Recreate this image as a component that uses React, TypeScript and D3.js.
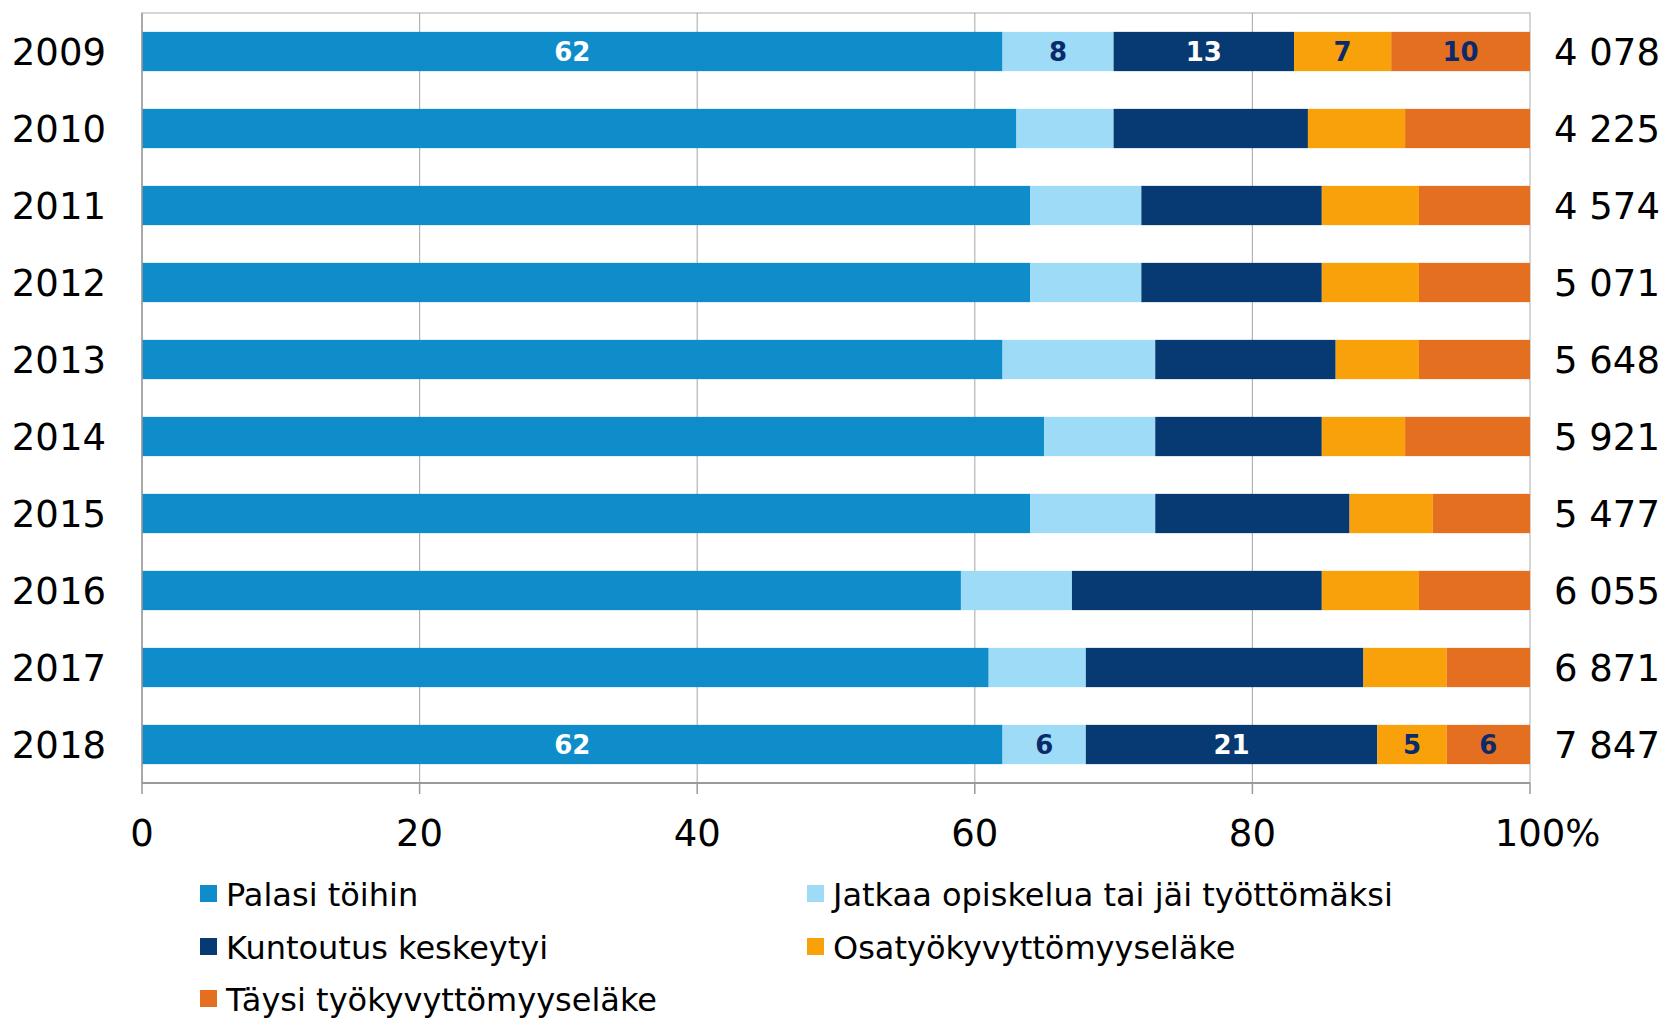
import React, { useEffect, useRef } from "react";
import * as d3 from "d3";

const years = ["2009", "2010", "2011", "2012", "2013", "2014", "2015", "2016", "2017", "2018"];
const palasiToihin = [62, 63, 64, 64, 62, 65, 64, 59, 61, 62];
const jatkaaOpiskelua = [8, 7, 8, 8, 11, 8, 9, 8, 7, 6];
const kuntoutusKeskeytyi = [13, 14, 13, 13, 13, 12, 14, 18, 20, 21];
const osaElake = [7, 7, 7, 7, 6, 6, 6, 7, 6, 5];
const taysiElake = [10, 9, 8, 8, 8, 9, 7, 8, 6, 6];
const totals = [4078, 4225, 4574, 5071, 5648, 5921, 5477, 6055, 6871, 7847];
const labelledYears = ["2009", "2018"];
const xTicks = [0, 20, 40, 60, 80, 100];

const seriesKeys = ["palasi", "jatkaa", "kuntoutus", "osa", "taysi"];
const seriesNames = [
  "Palasi töihin",
  "Jatkaa opiskelua tai jäi työttömäksi",
  "Kuntoutus keskeytyi",
  "Osatyökyvyttömyyseläke",
  "Täysi työkyvyttömyyseläke",
];
const colors = ["#0f8dca", "#9ddbf6", "#073a72", "#f9a10a", "#e56f21"];
const labelColors = ["#ffffff", "#0b2a6b", "#ffffff", "#0b2a6b", "#0b2a6b"];

const FONT = "'DejaVu Sans', Verdana, sans-serif";

const Chart = () => {
  const ref = useRef(null);

  useEffect(() => {
    const svg = d3.select(ref.current);
    svg.selectAll("*").remove();

    const width = 1663;
    const height = 1022;
    const plot = { left: 142, right: 1530, top: 13, bottom: 783 };

    svg.attr("width", width).attr("height", height);

    const rows = years.map((y, i) => ({
      year: y,
      palasi: palasiToihin[i],
      jatkaa: jatkaaOpiskelua[i],
      kuntoutus: kuntoutusKeskeytyi[i],
      osa: osaElake[i],
      taysi: taysiElake[i],
    }));

    const stacked = d3.stack().keys(seriesKeys)(rows as any);

    const x = d3.scaleLinear().domain([0, 100]).range([plot.left, plot.right]);
    const y = d3
      .scaleBand()
      .domain(years)
      .range([plot.top, plot.bottom])
      .paddingInner(0.49)
      .paddingOuter(0.245);

    // plot frame + gridlines
    svg.append("rect")
      .attr("x", plot.left)
      .attr("y", plot.top)
      .attr("width", plot.right - plot.left)
      .attr("height", plot.bottom - plot.top)
      .attr("fill", "none")
      .attr("stroke", "#c8c8c8")
      .attr("stroke-width", 1.5);

    svg.append("g")
      .selectAll("line")
      .data(xTicks.slice(1, -1))
      .enter()
      .append("line")
      .attr("x1", (d) => x(d))
      .attr("x2", (d) => x(d))
      .attr("y1", plot.top)
      .attr("y2", plot.bottom)
      .attr("stroke", "#b4b4b4")
      .attr("stroke-width", 1.2);

    // bars
    stacked.forEach((layer, si) => {
      svg.append("g")
        .selectAll("rect")
        .data(layer)
        .enter()
        .append("rect")
        .attr("x", (d) => x(d[0]))
        .attr("y", (d: any) => y(d.data.year))
        .attr("width", (d) => x(d[1]) - x(d[0]))
        .attr("height", y.bandwidth())
        .attr("fill", colors[si]);

      svg.append("g")
        .selectAll("text")
        .data(layer.filter((d: any) => labelledYears.includes(d.data.year)))
        .enter()
        .append("text")
        .attr("x", (d) => (x(d[0]) + x(d[1])) / 2)
        .attr("y", (d: any) => y(d.data.year) + y.bandwidth() / 2)
        .attr("dy", "0.36em")
        .attr("text-anchor", "middle")
        .attr("font-family", FONT)
        .attr("font-weight", "bold")
        .attr("font-size", 26)
        .attr("fill", labelColors[si])
        .text((d) => d[1] - d[0]);
    });

    // axes lines
    svg.append("line")
      .attr("x1", plot.left)
      .attr("x2", plot.left)
      .attr("y1", plot.top)
      .attr("y2", plot.bottom)
      .attr("stroke", "#9a9a9a")
      .attr("stroke-width", 1.5);

    svg.append("line")
      .attr("x1", plot.left)
      .attr("x2", plot.right)
      .attr("y1", plot.bottom)
      .attr("y2", plot.bottom)
      .attr("stroke", "#9a9a9a")
      .attr("stroke-width", 2);

    svg.append("g")
      .selectAll("line")
      .data(xTicks)
      .enter()
      .append("line")
      .attr("x1", (d) => x(d))
      .attr("x2", (d) => x(d))
      .attr("y1", plot.bottom)
      .attr("y2", plot.bottom + 11)
      .attr("stroke", "#9a9a9a")
      .attr("stroke-width", 1.5);

    // x tick labels ("%" hangs after the 100)
    const tickG = svg.append("g")
      .attr("font-family", FONT)
      .attr("font-size", 37)
      .attr("fill", "#000");
    xTicks.forEach((t) => {
      const txt = tickG.append("text")
        .attr("x", x(t))
        .attr("y", 833)
        .attr("dy", "0.36em")
        .attr("text-anchor", "middle")
        .text(String(t));
      if (t === 100) {
        const w = (txt.node() as SVGTextElement).getComputedTextLength();
        tickG.append("text")
          .attr("x", x(t) + w / 2)
          .attr("y", 833)
          .attr("dy", "0.36em")
          .text("%");
      }
    });

    // year labels
    svg.append("g")
      .selectAll("text")
      .data(years)
      .enter()
      .append("text")
      .attr("x", 106)
      .attr("y", (d) => y(d) + y.bandwidth() / 2)
      .attr("dy", "0.36em")
      .attr("text-anchor", "end")
      .attr("font-family", FONT)
      .attr("font-size", 37)
      .text((d) => d);

    // totals on the right
    const fmt = (v) => d3.format(",")(v).replace(",", " ");
    svg.append("g")
      .selectAll("text")
      .data(years)
      .enter()
      .append("text")
      .attr("x", 1554)
      .attr("y", (d) => y(d) + y.bandwidth() / 2)
      .attr("dy", "0.36em")
      .attr("font-family", FONT)
      .attr("font-size", 37)
      .text((d, i) => fmt(totals[i]));

    // legend: two columns, filled row by row
    const colX = [200, 807];
    const rowY = [894, 947, 999];
    seriesNames.forEach((name, i) => {
      const cx = colX[i % 2];
      const cy = rowY[Math.floor(i / 2)];
      svg.append("rect")
        .attr("x", cx)
        .attr("y", cy - 9)
        .attr("width", 17)
        .attr("height", 17)
        .attr("fill", colors[i]);
      svg.append("text")
        .attr("x", cx + 26)
        .attr("y", cy)
        .attr("dy", "0.36em")
        .attr("font-family", FONT)
        .attr("font-size", 32)
        .text(name);
    });
  }, []);

  return <svg ref={ref} style={{ position: "absolute", left: 0, top: 0 }}></svg>;
};

export default function App() {
  return <Chart />;
}
